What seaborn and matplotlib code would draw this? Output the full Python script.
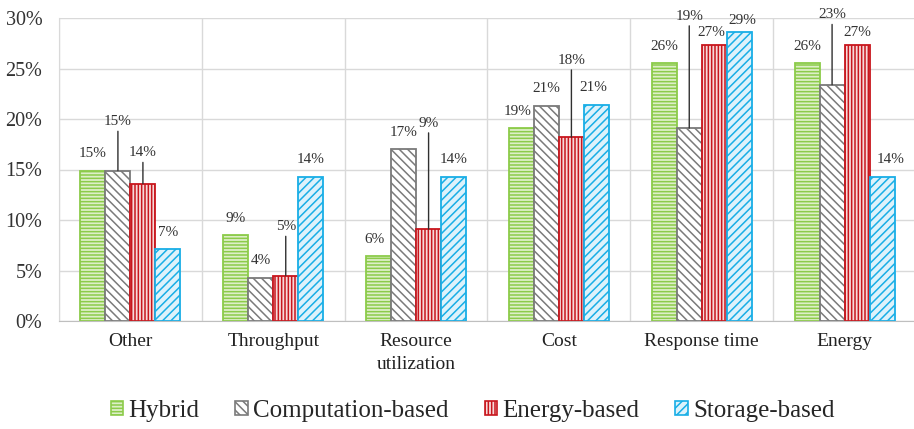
import numpy as np
import pandas as pd
import matplotlib
matplotlib.use("Agg")
import matplotlib.pyplot as plt
from matplotlib.patches import Patch
import seaborn as sns

# Share of studies per objective, by approach (%)
categories = ["Other", "Throughput", "Resource\nutilization", "Cost", "Response time", "Energy"]
series = ["Hybrid", "Computation-based", "Energy-based", "Storage-based"]
hybrid = [14.9, 8.5, 6.4, 19.1, 25.5, 25.5]
computation_based = [14.9, 4.3, 17.0, 21.3, 19.1, 23.4]
energy_based = [13.6, 4.5, 9.1, 18.2, 27.3, 27.3]
storage_based = [7.1, 14.3, 14.3, 21.4, 28.6, 14.3]
y_ticks = [0, 5, 10, 15, 20, 25, 30]

values = [hybrid, computation_based, energy_based, storage_based]
df = pd.DataFrame({
    "category": np.repeat([categories], len(series), axis=0).ravel(),
    "series": np.repeat(series, len(categories)),
    "value": np.concatenate(values),
})

# styling for each series: edge/hatch colour, fill tint, hatch
colors = {"Hybrid": "#8CCB4A", "Computation-based": "#7A7A7A",
          "Energy-based": "#C8161D", "Storage-based": "#18AEE6"}
fills = {"Hybrid": "#DDEFC8", "Computation-based": "#FFFFFF",
         "Energy-based": "#F7DADA", "Storage-based": "#DDF2FB"}
hatches = {"Hybrid": "-----", "Computation-based": "\\\\\\\\",
           "Energy-based": "|||||", "Storage-based": "////"}

# label placement (pixels, relative to top centre of each bar) and leader lines
label_dx = {(2, 0): -4, (3, 0): -4, (3, 3): -3, (4, 2): -3, (4, 3): 3, (5, 3): 9}
label_dy = {(0, 1): 49, (0, 2): 31, (1, 2): 49, (2, 2): 106, (3, 2): 77,
            (4, 1): 112, (4, 2): 13, (4, 3): 12, (5, 1): 70, (5, 2): 13}
leaders = {(0, 1), (0, 2), (1, 2), (2, 2), (3, 2), (4, 1), (5, 1)}

sns.set_style("white")
plt.rcParams["font.family"] = ["Liberation Serif", "DejaVu Serif"]
plt.rcParams["hatch.linewidth"] = 1.1

fig = plt.figure(figsize=(9.14, 4.29), dpi=100)
ax = fig.add_axes([59 / 914, 1 - 321 / 429, 857 / 914, 303 / 429])

sns.barplot(data=df, x="category", y="value", hue="series", order=categories,
            hue_order=series, width=0.70, ax=ax, legend=False,
            palette=[fills[s] for s in series], errorbar=None, saturation=1)

for cont, name in zip(ax.containers, series):
    for bar in cont:
        bar.set_facecolor(fills[name])
        bar.set_edgecolor(colors[name])
        bar.set_hatch(hatches[name])
        bar.set_linewidth(1.3)

# value labels
for j, cont in enumerate(ax.containers):
    for i, bar in enumerate(cont):
        v = values[j][i]
        xc = bar.get_x() + bar.get_width() / 2
        dx = label_dx.get((i, j), 0)
        dy = label_dy.get((i, j), 17)
        txt = f"{int(v + 0.5)}%"
        kw = {}
        if (i, j) in leaders:
            kw["arrowprops"] = dict(arrowstyle="-", color="#303030", lw=1.0,
                                    shrinkA=0, shrinkB=0)
        ax.annotate(txt, xy=(xc, v), xytext=(dx, dy), textcoords="offset pixels",
                    ha="center", va="center", fontsize=11, color="#333333", **kw)

ax.set_ylim(0, 30)
ax.set_xlim(-0.5, len(categories) - 0.5)
ax.set_yticks(y_ticks)
ax.set_yticklabels([f"{t}%" for t in y_ticks], fontsize=14.5, color="#333333")
ax.tick_params(axis="x", labelsize=14, labelcolor="#222222", length=0, pad=9)
ax.tick_params(axis="y", length=0, pad=12)
ax.set_xticks(np.arange(len(categories)))
ax.set_xticklabels(categories, linespacing=1.4)
ax.set_xticks(np.arange(len(categories) + 1) - 0.5, minor=True)
ax.tick_params(axis="x", which="minor", length=0)
ax.set_xlabel("")
ax.set_ylabel("")

ax.grid(axis="y", color="#D9D9D9", lw=1.0)
ax.grid(axis="x", which="minor", color="#D9D9D9", lw=1.0)
ax.grid(axis="x", which="major", visible=False)
ax.set_axisbelow(True)
for side in ["top", "right"]:
    ax.spines[side].set_visible(False)
ax.spines["left"].set_color("#D9D9D9")
ax.spines["bottom"].set_color("#BFBFBF")

handles = [Patch(facecolor=fills[s], edgecolor=colors[s], hatch=hatches[s], lw=1.2, label=s)
           for s in series]
fig.legend(handles=handles, loc="center", bbox_to_anchor=(0.517, 1 - 411 / 429), ncol=4,
           frameon=False, fontsize=18, handlelength=0.5, handleheight=0.5,
           handletextpad=0.2, columnspacing=1.45)

fig.savefig("out.png", dpi=100)
